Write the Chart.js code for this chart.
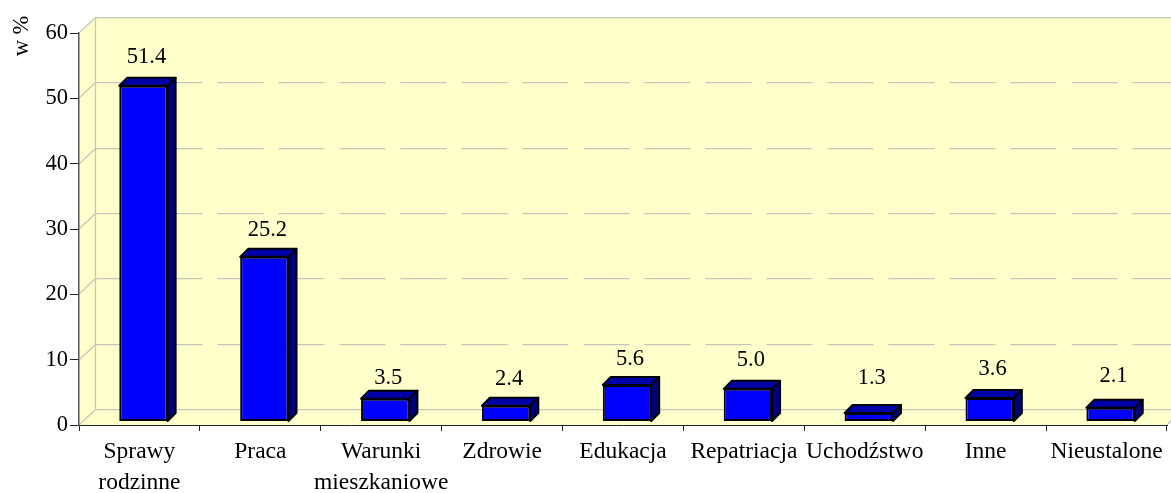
<!DOCTYPE html>
<html>
<head>
<meta charset="utf-8">
<style>html,body{margin:0;padding:0;background:#fff;overflow:hidden}canvas{display:block}</style>
<script src="https://cdn.jsdelivr.net/npm/chart.js@4"></script>
</head>
<body>
<canvas id="c" width="1171" height="493"></canvas>
<script>
const categories = [["Sprawy","rodzinne"],"Praca",["Warunki","mieszkaniowe"],"Zdrowie","Edukacja","Repatriacja","Uchodźstwo","Inne","Nieustalone"];
const values = [51.4,25.2,3.5,2.4,5.6,5.0,1.3,3.6,2.1];
const valueLabels = ["51.4","25.2","3.5","2.4","5.6","5.0","1.3","3.6","2.1"];
const yTicks = [0,10,20,30,40,50,60];
const yTitle = "w %";

const FONT = '22.5px "Liberation Serif"';
const WALL = 16, DEPTH = 8, SHIFT_X = 4, SHIFT_Y = 3.5;
const labelGap = [21,19,13,19,18,21,27,21,24];

const threeD = {
  id: 'threeD',
  beforeDraw(chart) {
    const {ctx, chartArea: a, scales: {y}} = chart;
    const W = chart.width;
    ctx.save();
    ctx.fillStyle = '#ffffcc';
    ctx.beginPath();
    ctx.moveTo(a.left, y.getPixelForValue(60));
    ctx.lineTo(a.left + WALL, y.getPixelForValue(60) - WALL);
    ctx.lineTo(W, y.getPixelForValue(60) - WALL);
    ctx.lineTo(W, a.bottom - WALL);
    ctx.lineTo(a.right + WALL, a.bottom - WALL);
    ctx.lineTo(a.right, a.bottom);
    ctx.lineTo(a.left, a.bottom);
    ctx.closePath();
    ctx.fill();
    ctx.strokeStyle = '#c6c6b8';
    ctx.lineWidth = 1.25;
    const bx = a.left + WALL + 0.5;
    yTicks.forEach(t => {
      const py = Math.round(y.getPixelForValue(t));
      const by = py - WALL + 0.5;
      ctx.setLineDash([]);
      ctx.beginPath();
      ctx.moveTo(a.left, py);
      ctx.lineTo(bx, by);
      ctx.stroke();
      ctx.setLineDash(t === 0 || t === 60 ? [] : [46,15]);
      ctx.beginPath();
      ctx.moveTo(bx, by);
      ctx.lineTo(W, by);
      ctx.stroke();
    });
    ctx.setLineDash([]);
    ctx.beginPath();
    ctx.moveTo(bx, y.getPixelForValue(60) - WALL);
    ctx.lineTo(bx, a.bottom - WALL);
    ctx.stroke();
    ctx.beginPath();
    ctx.moveTo(a.right, a.bottom);
    ctx.lineTo(a.right + WALL, a.bottom - WALL);
    ctx.stroke();
    ctx.restore();
  },
  beforeDatasetsDraw(chart) {
    const {ctx} = chart;
    ctx.save();
    ctx.translate(SHIFT_X, -SHIFT_Y);
    chart.getDatasetMeta(0).data.forEach(b => {
      const l = b.x - b.width / 2, r = b.x + b.width / 2;
      ctx.lineWidth = 2;
      ctx.strokeStyle = '#000';
      ctx.lineJoin = 'round';
      ctx.fillStyle = '#0000a8';
      ctx.beginPath();
      ctx.moveTo(l, b.y); ctx.lineTo(l + DEPTH, b.y - DEPTH);
      ctx.lineTo(r + DEPTH, b.y - DEPTH); ctx.lineTo(r, b.y);
      ctx.closePath(); ctx.fill(); ctx.stroke();
      ctx.fillStyle = '#00007f';
      ctx.beginPath();
      ctx.moveTo(r, b.y); ctx.lineTo(r + DEPTH, b.y - DEPTH);
      ctx.lineTo(r + DEPTH, b.base - DEPTH); ctx.lineTo(r, b.base);
      ctx.closePath(); ctx.fill(); ctx.stroke();
    });
  },
  afterDatasetsDraw(chart) {
    const {ctx} = chart;
    ctx.restore();
    ctx.save();
    ctx.fillStyle = '#000';
    ctx.font = FONT;
    ctx.textAlign = 'center';
    ctx.textBaseline = 'middle';
    chart.getDatasetMeta(0).data.forEach((b, i) => {
      const topY = b.y - SHIFT_Y - DEPTH;
      ctx.fillText(valueLabels[i], b.x + SHIFT_X + 3, topY - labelGap[i]);
    });
    ctx.translate(22, 36);
    ctx.rotate(-Math.PI / 2);
    ctx.fillText(yTitle, 0, 0);
    ctx.restore();
  }
};

new Chart(document.getElementById('c'), {
  type: 'bar',
  data: {
    labels: categories,
    datasets: [{
      data: values,
      backgroundColor: '#0000ff',
      borderColor: '#000',
      borderWidth: 2,
      borderSkipped: false,
      barPercentage: 0.4,
      categoryPercentage: 1,
      clip: false
    }]
  },
  options: {
    responsive: false,
    animation: false,
    layout: {padding: {top: 33, right: 4, left: 0, bottom: 0}},
    plugins: {legend: {display: false}, title: {display: false}, tooltip: {enabled: false}},
    scales: {
      x: {
        afterFit(s) { s.height = 68; },
        grid: {drawOnChartArea: false, drawTicks: true, tickLength: 6, color: '#222', offset: true},
        border: {color: '#222', width: 1},
        ticks: {color: '#000', font: {family: '"Liberation Serif"', size: 23.5, lineHeight: 1.32}, padding: 5, maxRotation: 0, autoSkip: false}
      },
      y: {
        min: 0, max: 60,
        afterFit(s) { s.width = 79; },
        afterBuildTicks(s) { s.ticks = yTicks.map(v => ({value: v})); },
        grid: {drawOnChartArea: false, drawTicks: true, tickLength: 9, color: '#222'},
        border: {color: '#555', width: 1.5},
        ticks: {color: '#000', font: {family: '"Liberation Serif"', size: 22.5}, padding: 2}
      }
    }
  },
  plugins: [threeD]
});
</script>
</body>
</html>
